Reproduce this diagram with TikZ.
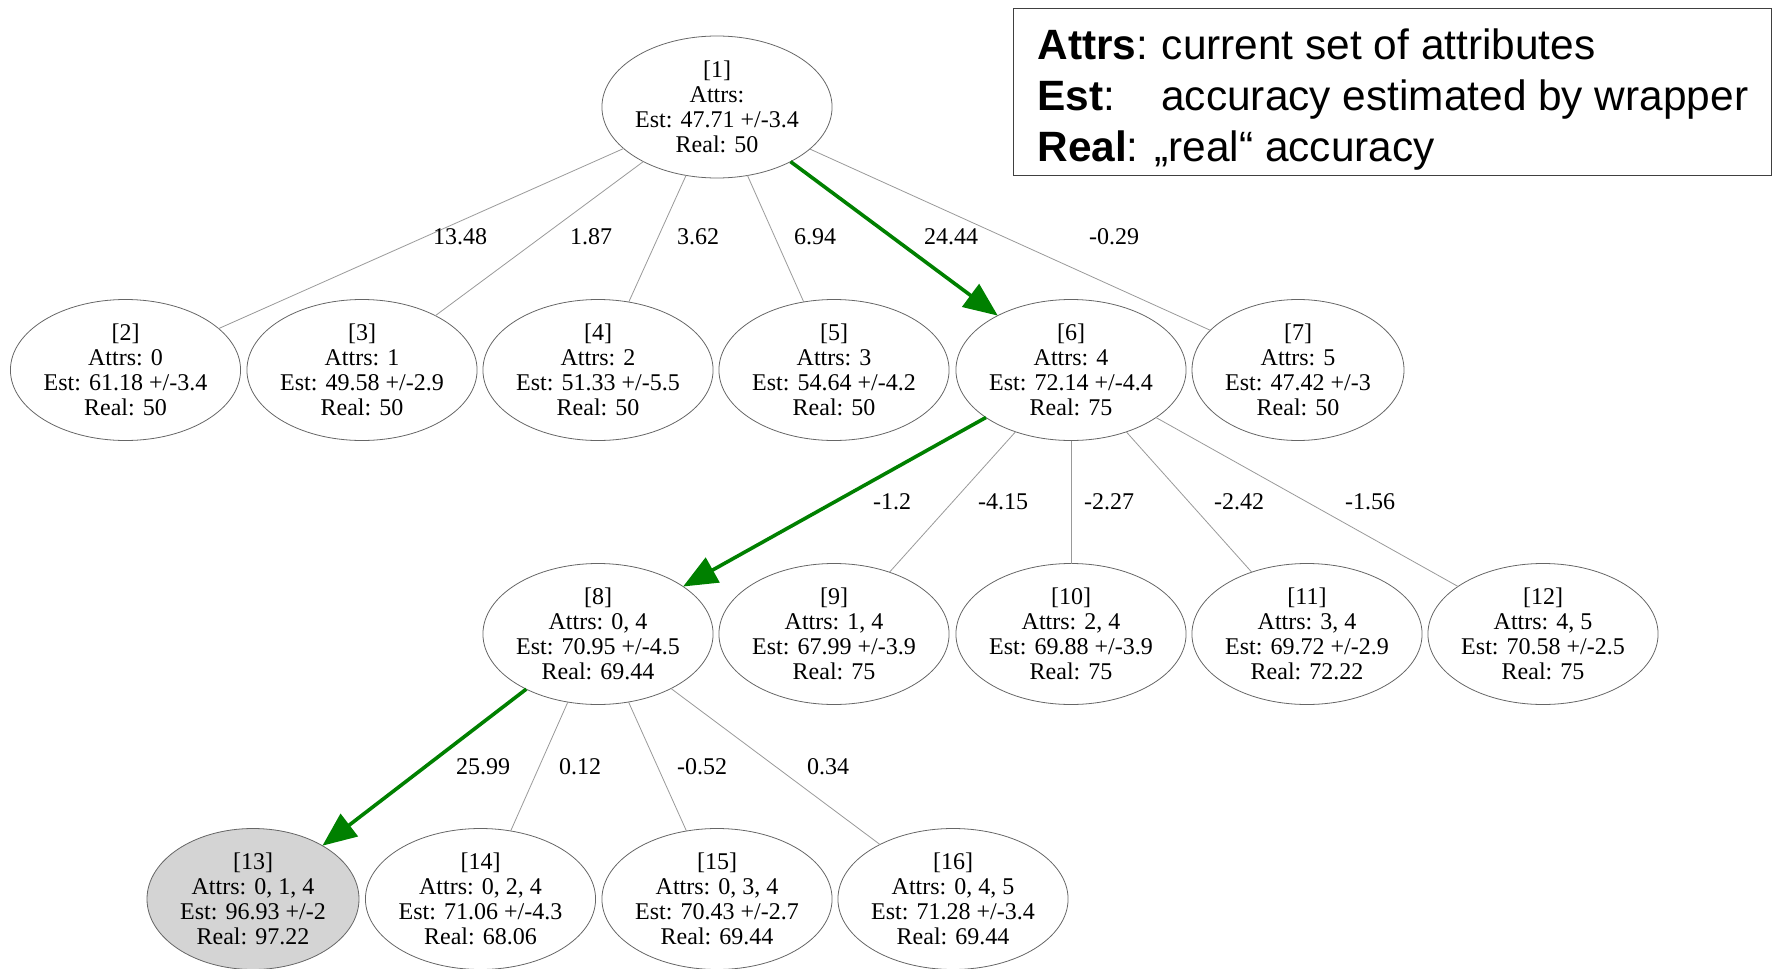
\documentclass[tikz,border=0pt]{standalone}
\usepackage{fontspec}
\setmainfont{Liberation Serif}
\newfontfamily\legendfont{Liberation Sans}
\usetikzlibrary{shapes.geometric,arrows.meta}
\begin{document}
\begin{tikzpicture}[x=0.5pt,y=-0.5pt,
 state/.style={ellipse,draw=black!60,line width=0.4pt,inner xsep=-0.2pt,inner ysep=0pt,outer sep=0pt,minimum width=106pt,minimum height=70.5pt,align=center,font=\fontsize{12}{12.6}\selectfont},
 edge/.style={draw=black!40,line width=0.4pt},
 best/.style={draw=green!50!black,line width=1.8pt,-{Triangle[length=17pt,width=14pt]}},
 elabel/.style={font=\fontsize{12}{12.6}\selectfont,inner sep=0pt},
 legendtext/.style={font=\legendfont\fontsize{21.2}{25}\selectfont,anchor=base west,inner sep=0pt}]
\useasboundingbox (0,0) rectangle (1773,969);

% legend
\node[draw=black!75,line width=0.5pt,minimum width=379pt,minimum height=83.5pt,inner sep=0pt] (legendbox) at (1392,91.5) {};
\node[legendtext] (lg1) at (1037,59) {\textbf{Attrs}:\hspace{-1pt} current set of attributes};
\node[legendtext] (lg2) at (1037,110) {\makebox[62pt][l]{\textbf{Est}:}accuracy estimated by wrapper};
\node[legendtext] (lg3) at (1037,161) {\textbf{Real}: „real“ accuracy};

% nodes
\node[state,minimum height=71pt] (n1) at (717,107) {[1]\\Attrs:\\Est: 47.71 +/-3.4\\Real: 50};

\node[state] (n2) at (125.5,370) {[2]\\Attrs: 0\\Est: 61.18 +/-3.4\\Real: 50};
\node[state] (n3) at (362,370) {[3]\\Attrs: 1\\Est: 49.58 +/-2.9\\Real: 50};
\node[state] (n4) at (598,370) {[4]\\Attrs: 2\\Est: 51.33 +/-5.5\\Real: 50};
\node[state] (n5) at (834,370) {[5]\\Attrs: 3\\Est: 54.64 +/-4.2\\Real: 50};
\node[state] (n6) at (1071,370) {[6]\\Attrs: 4\\Est: 72.14 +/-4.4\\Real: 75};
\node[state] (n7) at (1298,370) {[7]\\Attrs: 5\\Est: 47.42 +/-3\\Real: 50};

\node[state] (n8) at (598,634) {[8]\\Attrs: 0, 4\\Est: 70.95 +/-4.5\\Real: 69.44};
\node[state] (n9) at (834,634) {[9]\\Attrs: 1, 4\\Est: 67.99 +/-3.9\\Real: 75};
\node[state] (n10) at (1071,634) {[10]\\Attrs: 2, 4\\Est: 69.88 +/-3.9\\Real: 75};
\node[state] (n11) at (1307,634) {[11]\\Attrs: 3, 4\\Est: 69.72 +/-2.9\\Real: 72.22};
\node[state] (n12) at (1543,634) {[12]\\Attrs: 4, 5\\Est: 70.58 +/-2.5\\Real: 75};

\node[state,fill=black!17] (n13) at (253,899) {[13]\\Attrs: 0, 1, 4\\Est: 96.93 +/-2\\Real: 97.22};
\node[state] (n14) at (480.5,899) {[14]\\Attrs: 0, 2, 4\\Est: 71.06 +/-4.3\\Real: 68.06};
\node[state] (n15) at (717,899) {[15]\\Attrs: 0, 3, 4\\Est: 70.43 +/-2.7\\Real: 69.44};
\node[state] (n16) at (953,899) {[16]\\Attrs: 0, 4, 5\\Est: 71.28 +/-3.4\\Real: 69.44};

% edges
\draw[edge] (n1) -- (n2);
\draw[edge] (n1) -- (n3);
\draw[edge] (n1) -- (n4);
\draw[edge] (n1) -- (n5);
\draw[best] (n1) -- (n6);
\draw[edge] (n1) -- (n7);

\draw[best] (n6) -- (n8);
\draw[edge] (n6) -- (n9);
\draw[edge] (n6) -- (n10);
\draw[edge] (n6) -- (n11);
\draw[edge] (n6) -- (n12);

\draw[best] (n8) -- (n13);
\draw[edge] (n8) -- (n14);
\draw[edge] (n8) -- (n15);
\draw[edge] (n8) -- (n16);

% edge labels
\node[elabel] (l12) at (460,237) {13.48};
\node[elabel] (l13) at (591,237) {1.87};
\node[elabel] (l14) at (698,237) {3.62};
\node[elabel] (l15) at (815,237) {6.94};
\node[elabel] (l16) at (951,237) {24.44};
\node[elabel] (l17) at (1114,237) {-0.29};

\node[elabel] (l68) at (892,502) {-1.2};
\node[elabel] (l69) at (1003,502) {-4.15};
\node[elabel] (l610) at (1109,502) {-2.27};
\node[elabel] (l611) at (1239,502) {-2.42};
\node[elabel] (l612) at (1370,502) {-1.56};

\node[elabel] (l813) at (483,767) {25.99};
\node[elabel] (l814) at (580,767) {0.12};
\node[elabel] (l815) at (702,767) {-0.52};
\node[elabel] (l816) at (828,767) {0.34};
\end{tikzpicture}
\end{document}
